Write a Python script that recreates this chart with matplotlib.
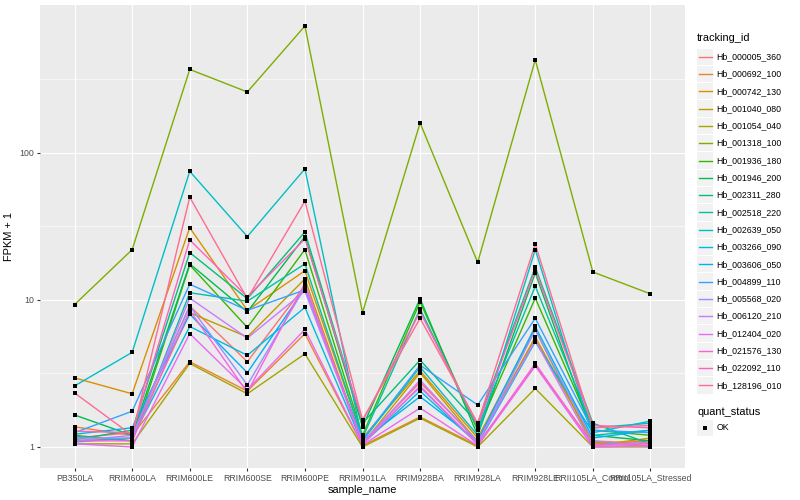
"""
FPKM + 1 per sample for 20 tracking ids, ggplot-like styling.
Writes: out.png (800x500)
"""
import matplotlib
matplotlib.use("Agg")
import matplotlib.pyplot as plt
import matplotlib.ticker as mticker
from matplotlib.lines import Line2D
from matplotlib.patches import Rectangle
import numpy as np

plt.rcParams["font.family"] = ["Liberation Sans", "DejaVu Sans"]

# ---------------------------------------------------------------------------
# Data
# ---------------------------------------------------------------------------
samples = ["PB350LA", "RRIM600LA", "RRIM600LE", "RRIM600SE", "RRIM600PE",
           "RRIM901LA", "RRIM928BA", "RRIM928LA", "RRIM928LE",
           "RRII105LA_Control", "RRII105LA_Stressed"]

tracking_ids = ["Hb_000005_360", "Hb_000692_100", "Hb_000742_130",
                "Hb_001040_080", "Hb_001054_040", "Hb_001318_100",
                "Hb_001936_180", "Hb_001946_200", "Hb_002311_280",
                "Hb_002518_220", "Hb_002639_050", "Hb_003266_090",
                "Hb_003606_050", "Hb_004899_110", "Hb_005568_020",
                "Hb_006120_210", "Hb_012404_020", "Hb_021576_130",
                "Hb_022092_110", "Hb_128196_010"]

# ggplot2 default hue palette for 20 levels
colors = ["#F8766D", "#EA8331", "#D89000", "#C09B00", "#A3A500",
          "#7CAE00", "#39B600", "#00BB4E", "#00BF7D", "#00C1A3",
          "#00BFC4", "#00BAE0", "#00B0F6", "#35A2FF", "#9590FF",
          "#C77CFF", "#E76BF3", "#FA62DB", "#FF62BC", "#FF6C91"]

# one row per tracking id, one column per sample (FPKM + 1)
fpkm_plus_one = [
    [1.15, 1.25, 9.1, 3.8, 12.5, 1.08, 2.75, 1.10, 5.4, 1.10, 1.05],
    [1.37, 1.20, 3.8, 2.4, 5.9, 1.02, 1.60, 1.02, 3.6, 1.05, 1.10],
    [2.95, 2.30, 31.0, 8.5, 15.8, 1.15, 3.30, 1.15, 6.3, 1.02, 1.15],
    [1.10, 1.15, 8.2, 5.6, 13.9, 1.05, 3.20, 1.08, 5.6, 1.08, 1.02],
    [1.05, 1.05, 3.7, 2.3, 4.3, 1.00, 1.57, 1.00, 2.5, 1.00, 1.00],
    [9.3, 22.0, 370.0, 260.0, 730.0, 8.2, 160.0, 18.0, 430.0, 15.5, 11.0],
    [1.20, 1.10, 17.3, 6.5, 22.0, 1.20, 9.7, 1.30, 10.3, 1.30, 1.20],
    [1.65, 1.20, 17.6, 8.3, 27.0, 1.37, 10.2, 1.20, 15.3, 1.20, 1.10],
    [1.12, 1.30, 21.0, 10.2, 29.0, 1.45, 3.9, 1.45, 16.7, 1.45, 1.05],
    [1.18, 1.10, 11.2, 9.8, 17.6, 1.15, 8.7, 1.35, 12.4, 1.35, 1.45],
    [2.60, 4.40, 75.0, 27.0, 78.0, 1.10, 3.5, 1.20, 22.0, 1.20, 1.30],
    [1.08, 1.15, 6.6, 4.2, 8.9, 1.05, 2.4, 1.05, 5.2, 1.25, 1.50],
    [1.22, 1.35, 8.0, 3.2, 12.0, 1.10, 2.2, 1.10, 6.6, 1.15, 1.30],
    [1.25, 1.75, 12.8, 8.5, 11.7, 1.12, 3.6, 1.93, 7.5, 1.30, 1.25],
    [1.10, 1.20, 9.1, 2.64, 12.2, 1.08, 2.55, 1.05, 6.25, 1.10, 1.00],
    [1.15, 1.15, 10.3, 5.5, 11.5, 1.06, 2.85, 1.08, 5.3, 1.02, 1.08],
    [1.05, 1.00, 5.9, 2.45, 6.3, 1.03, 1.84, 1.02, 3.55, 1.00, 1.02],
    [1.10, 1.10, 8.5, 2.35, 13.0, 1.04, 2.6, 1.04, 3.7, 1.03, 1.03],
    [1.28, 1.25, 25.6, 10.5, 26.0, 1.50, 8.3, 1.40, 16.0, 1.40, 1.35],
    [2.33, 1.20, 50.0, 10.2, 47.0, 1.53, 7.5, 1.45, 24.0, 1.35, 1.40],
]

quant_status = ["OK"]

# ---------------------------------------------------------------------------
# Figure (pixel helpers for an 800x500 canvas)
# ---------------------------------------------------------------------------
W, H = 800, 500
def fx(px):
    return px / W
def fy(py):
    return 1 - py / H

fig = plt.figure(figsize=(8, 5), dpi=100, facecolor="white")
ax = fig.add_axes([fx(40), fy(468), fx(685) - fx(40), fy(5) - fy(468)])
ax.set_facecolor("#EBEBEB")

POINT_MS = 3.1

x = np.arange(1, len(samples) + 1)
for vals, col in zip(fpkm_plus_one, colors):
    ax.plot(x, vals, color=col, lw=1.0, zorder=3, solid_capstyle="butt")
for vals in fpkm_plus_one:
    ax.plot(x, vals, "s", color="black", ms=POINT_MS, mew=0, zorder=4)

# ---- scales ---------------------------------------------------------------
ax.set_yscale("log")
all_vals = np.array(fpkm_plus_one)
lo, hi = np.log10(all_vals.min()), np.log10(all_vals.max())
pad = 0.05 * (hi - lo)
ax.set_ylim(10 ** (lo - pad), 10 ** (hi + pad))
ax.set_xlim(0.4, len(samples) + 0.6)

ax.yaxis.set_major_locator(mticker.FixedLocator([1, 10, 100]))
ax.yaxis.set_major_formatter(mticker.FuncFormatter(lambda v, _: f"{v:g}"))
ax.yaxis.set_minor_locator(mticker.FixedLocator([10 ** 0.5, 10 ** 1.5, 10 ** 2.5]))
ax.yaxis.set_minor_formatter(mticker.NullFormatter())
ax.set_xticks(x)
ax.set_xticklabels(samples)

# ---- grid -----------------------------------------------------------------
ax.grid(True, which="major", color="white", lw=0.85, zorder=1)
ax.grid(True, which="minor", axis="y", color="white", lw=0.4, zorder=1)
ax.set_axisbelow(True)
for s in ax.spines.values():
    s.set_visible(False)

ax.tick_params(axis="both", which="major", length=2.0, width=0.8,
               color="#333333", labelcolor="#4D4D4D", labelsize=6.3, pad=2)
ax.tick_params(axis="y", which="minor", length=0)

ax.set_xlabel("sample_name", fontsize=7.9, color="black", labelpad=2)
ax.set_ylabel("FPKM + 1", fontsize=7.9, color="black", labelpad=4)

# ---- legend (drawn by hand, ggplot style) ---------------------------------
key_x, key = 697, 17.3
fig.text(fx(key_x), fy(38), "tracking_id", fontsize=7.9, va="center", ha="left")
y0 = 56.7
for i, (tid, col) in enumerate(zip(tracking_ids, colors)):
    yc = y0 + i * key
    fig.patches.append(Rectangle((fx(key_x), fy(yc + key / 2 - 0.5)),
                                 fx(key - 1), (key - 1) / H,
                                 transform=fig.transFigure,
                                 facecolor="#F2F2F2", edgecolor="none"))
    fig.lines.append(Line2D([fx(key_x + 1.5), fx(key_x + key - 2.5)],
                            [fy(yc), fy(yc)], transform=fig.transFigure,
                            color=col, lw=1.0))
    fig.text(fx(716.7), fy(yc), tid, fontsize=6.3, va="center", ha="left")

fig.text(fx(key_x), fy(411.7), "quant_status", fontsize=7.9,
         va="center", ha="left")
for j, status in enumerate(quant_status):
    yc = 428 + j * key
    fig.patches.append(Rectangle((fx(key_x), fy(yc + key / 2 - 0.5)),
                                 fx(key - 1), (key - 1) / H,
                                 transform=fig.transFigure,
                                 facecolor="#F2F2F2", edgecolor="none"))
    fig.lines.append(Line2D([fx(key_x + (key - 1) / 2)], [fy(yc)],
                            transform=fig.transFigure, marker="s",
                            color="black", ms=POINT_MS, mew=0, ls="none"))
    fig.text(fx(716.7), fy(yc), status, fontsize=6.3, va="center", ha="left")

fig.savefig("out.png", dpi=100, facecolor="white")
